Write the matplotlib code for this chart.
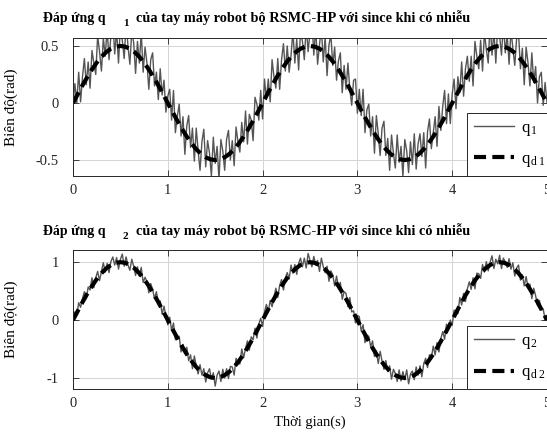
import numpy as np
import matplotlib
matplotlib.use('Agg')
import matplotlib.pyplot as plt

# --------------------------------------------------------------------------- #
# Data
# --------------------------------------------------------------------------- #
# sampled response, t = 0 .. 5 step 0.02 (values in rad / 100)
t_q = np.linspace(0, 5, 251)

q1 = np.array([
  0, 17, 0, 27, 1, 23, 39, 16, 36, 13,
  46, 35, 25, 59, 45, 28, 57, 41, 65, 38,
  59, 72, 43, 64, 35, 68, 55, 39, 70, 50,
  34, 63, 53, 26, 54, 35, 62, 27, 49, 35,
  12, 38, 44, 15, 27, 3, 30, 7, 20, -8,
  6, 12, -15, 11, -26, -12, -1, -29, -12, -45,
  -20, -11, -39, -22, -51, -22, -42, -59, -34, -23,
  -56, -33, -44, -64, -30, -53, -38, -67, -32, -42,
  -59, -32, -24, -50, -33, -55, -21, -34, -43, -17,
  -34, -7, -36, -10, -15, -33, 5, -1, -15, 11,
  -14, 21, 3, 21, 1, 38, 23, 13, 39, 12,
  38, 52, 28, 50, 27, 42, 63, 35, 56, 29,
  63, 54, 38, 68, 45, 62, 74, 42, 66, 34,
  51, 66, 36, 58, 24, 51, 60, 33, 49, 20,
  37, 44, 9, 33, 12, 35, 12, -2, 20, 21,
  -9, 12, -11, 12, -26, -6, -1, -29, -12, -44,
  -11, -27, -46, -22, -16, -46, -31, -59, -28, -44,
  -57, -28, -52, -38, -64, -32, -42, -61, -34, -54,
  -27, -58, -36, -27, -47, -26, -57, -25, -14, -40,
  -26, -12, -38, -3, -24, -3, 11, -18, 8, -18,
  8, 21, -5, 23, 9, 36, 6, 30, 41, 19,
  41, 15, 54, 41, 30, 55, 28, 62, 47, 35,
  71, 42, 63, 35, 67, 59, 42, 70, 44, 60,
  34, 64, 48, 33, 57, 61, 30, 48, 16, 49,
  35, 15, 44, 18, 32, 0, 23, 27, -2, 18,
  0]) / 100.0

q2 = np.array([
  0, 14, 8, 30, 22, 37, 49, 37, 57, 52,
  73, 56, 73, 84, 68, 84, 99, 83, 98, 82,
  101, 109, 95, 108, 88, 105, 114, 93, 109, 95,
  86, 105, 93, 77, 92, 76, 91, 65, 74, 66,
  47, 63, 53, 37, 49, 28, 33, 10, 24, 6,
  -8, 5, -18, -5, -34, -28, -28, -55, -42, -57,
  -47, -70, -60, -84, -62, -79, -93, -77, -95, -84,
  -107, -91, -84, -102, -91, -114, -95, -88, -106, -85,
  -100, -84, -101, -80, -81, -95, -66, -73, -76, -50,
  -65, -49, -36, -52, -29, -34, -14, -31, -7, 3,
  -11, 14, 27, 14, 34, 23, 40, 55, 39, 60,
  70, 52, 73, 82, 71, 95, 81, 96, 79, 98,
  107, 92, 107, 90, 115, 103, 92, 110, 95, 103,
  84, 107, 92, 82, 93, 67, 85, 78, 59, 76,
  56, 65, 36, 49, 46, 23, 39, 14, 16, -5,
  8, 6, -19, -8, -39, -26, -28, -46, -36, -63,
  -53, -75, -54, -71, -85, -70, -89, -79, -102, -85,
  -92, -106, -86, -105, -89, -103, -86, -110, -93, -88,
  -103, -81, -95, -79, -98, -75, -66, -82, -60, -66,
  -45, -60, -39, -55, -32, -20, -33, -7, -16, 0,
  -9, 17, 16, 11, 39, 26, 46, 32, 54, 66,
  53, 73, 54, 81, 80, 72, 96, 83, 101, 85,
  100, 111, 89, 105, 97, 112, 89, 107, 100, 91,
  106, 88, 99, 76, 90, 95, 69, 78, 59, 75,
  56, 62, 37, 55, 42, 25, 34, 17, 19, 1,
  0]) / 100.0

# desired trajectory, t = 0 .. 5 step 0.05
t_d = np.linspace(0, 5, 101)

qd1 = [0, .078, .155, .227, .294, .354, .405, .446, .476, .494,
       .5, .494, .476, .446, .405, .354, .294, .227, .155, .078,
       0, -.078, -.155, -.227, -.294, -.354, -.405, -.446, -.476, -.494,
       -.5, -.494, -.476, -.446, -.405, -.354, -.294, -.227, -.155, -.078,
       0, .078, .155, .227, .294, .354, .405, .446, .476, .494,
       .5, .494, .476, .446, .405, .354, .294, .227, .155, .078,
       0, -.078, -.155, -.227, -.294, -.354, -.405, -.446, -.476, -.494,
       -.5, -.494, -.476, -.446, -.405, -.354, -.294, -.227, -.155, -.078,
       0, .078, .155, .227, .294, .354, .405, .446, .476, .494,
       .5, .494, .476, .446, .405, .354, .294, .227, .155, .078,
       0]

qd2 = [0, .156, .309, .454, .588, .707, .809, .891, .951, .988,
       1, .988, .951, .891, .809, .707, .588, .454, .309, .156,
       0, -.156, -.309, -.454, -.588, -.707, -.809, -.891, -.951, -.988,
       -1, -.988, -.951, -.891, -.809, -.707, -.588, -.454, -.309, -.156,
       0, .156, .309, .454, .588, .707, .809, .891, .951, .988,
       1, .988, .951, .891, .809, .707, .588, .454, .309, .156,
       0, -.156, -.309, -.454, -.588, -.707, -.809, -.891, -.951, -.988,
       -1, -.988, -.951, -.891, -.809, -.707, -.588, -.454, -.309, -.156,
       0, .156, .309, .454, .588, .707, .809, .891, .951, .988,
       1, .988, .951, .891, .809, .707, .588, .454, .309, .156,
       0]

xticks = [0, 1, 2, 3, 4, 5]
yticks1 = [-0.5, 0, 0.5]
yticks2 = [-1, 0, 1]
ylim1 = [-0.64, 0.57]
ylim2 = [-1.19, 1.21]

# --------------------------------------------------------------------------- #
# Style
# --------------------------------------------------------------------------- #
plt.rcParams['font.family'] = ['Liberation Serif', 'DejaVu Serif']
plt.rcParams['mathtext.fontset'] = 'custom'
plt.rcParams['mathtext.rm'] = 'Liberation Serif'
plt.rcParams['mathtext.it'] = 'Liberation Serif'
plt.rcParams['axes.unicode_minus'] = False

W, H = 547.0, 434.0
fig = plt.figure(figsize=(W / 100, H / 100), dpi=100)

def px(x0, y0, x1, y1):
  return [x0 / W, 1 - y1 / H, (x1 - x0) / W, (y1 - y0) / H]

def setupAxes(ax, yticks, ylim):
  ax.set_xlim([0, 5])
  ax.set_ylim(ylim)
  ax.set_xticks(xticks)
  ax.set_yticks(yticks)
  ax.set_yticklabels(['{:g}'.format(v) for v in yticks])
  ax.grid(True, color='#d4d4d4', linewidth=0.7)
  ax.set_axisbelow(True)
  ax.tick_params(direction='in', length=4, width=0.6, labelsize=10.5,
                 top=True, right=True, colors='#262626')
  ax.tick_params(axis='x', pad=6)
  ax.tick_params(axis='y', pad=10)
  ax.set_ylabel('Biên độ(rad)', fontsize=11)
  ax.yaxis.set_label_coords((18 - 73) / 474.0, 0.5)
  for s in ax.spines.values():
    s.set_linewidth(0.7)
    s.set_color('#262626')

def addLegend(ax):
  leg = ax.legend(loc='lower left', bbox_to_anchor=(0.832, 0.0), fontsize=12,
                  handlelength=2.4, handletextpad=0.4, labelspacing=0.8,
                  borderaxespad=0, fancybox=False, framealpha=1,
                  edgecolor='#262626')
  leg.get_frame().set_linewidth(0.7)

def addTitle(y, sub):
  fig.text(43 / W, 1 - y / H, 'Đáp ứng q', fontsize=10, fontweight='bold',
           va='baseline')
  fig.text(123 / W, 1 - (y + 4) / H, sub, fontsize=8, fontweight='bold',
           va='baseline')
  fig.text(136 / W, 1 - y / H,
           'của tay máy robot bộ RSMC-HP với since khi có nhiễu',
           fontsize=10.3, fontweight='bold', va='baseline')

# --------------------------------------------------------------------------- #
# Joint 1
# --------------------------------------------------------------------------- #
ax1 = fig.add_axes(px(73, 38, 547, 176))
ax1.plot(t_q, q1, color='#555555', linewidth=1.0, label='q$_{\\,1}$')
ax1.plot(t_d, qd1, color='black', linewidth=3.0, dashes=(2.9, 1.5),
         label='q$_{\\,\\mathrm{d\\,1}}$')
setupAxes(ax1, yticks1, ylim1)
addLegend(ax1)
addTitle(22, '1')

# --------------------------------------------------------------------------- #
# Joint 2
# --------------------------------------------------------------------------- #
ax2 = fig.add_axes(px(73, 250, 547, 389))
ax2.plot(t_q, q2, color='#555555', linewidth=1.0, label='q$_{\\,2}$')
ax2.plot(t_d, qd2, color='black', linewidth=3.0, dashes=(2.9, 1.5),
         label='q$_{\\,\\mathrm{d\\,2}}$')
setupAxes(ax2, yticks2, ylim2)
ax2.set_xlabel('Thời gian(s)', fontsize=10.5, labelpad=4)
addLegend(ax2)
addTitle(235, '2')

fig.savefig('out.png', dpi=100)
